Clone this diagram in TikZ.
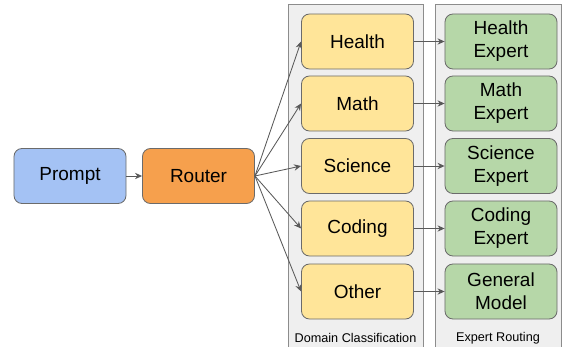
\documentclass[tikz,border=0pt]{standalone}
\usepackage{fontspec}
\setmainfont{Liberation Sans}
\usetikzlibrary{arrows.meta}
\definecolor{promptblue}{HTML}{A4C2F4}
\definecolor{routerorange}{HTML}{F6A04D}
\definecolor{domainyellow}{HTML}{FFE599}
\definecolor{expertgreen}{HTML}{B6D7A8}
\definecolor{panelgray}{HTML}{EFEFEF}
\definecolor{panelline}{HTML}{8C8C8C}
\definecolor{boxline}{HTML}{6B6B6B}
\definecolor{linkgray}{HTML}{595959}
\tikzset{
  box/.style={draw=boxline, line width=0.6pt, rounded corners=0.2cm,
    minimum width=2.8cm, minimum height=1.375cm, align=center,
    font=\fontsize{13.5}{16.3}\selectfont},
  domainbox/.style={box, fill=domainyellow},
  expertbox/.style={box, fill=expertgreen},
  panel/.style={draw=panelline, line width=0.6pt, fill=panelgray},
  link/.style={draw=linkgray, line width=0.6pt, -{Stealth[length=5pt,width=4.5pt]}},
  caption/.style={font=\fontsize{9}{11}\selectfont}
}
\begin{document}
\begin{tikzpicture}[x=0.025cm,y=-0.025cm]
        \useasboundingbox (0,0) rectangle (565,347);

        % the two grey columns
        \draw[panel] (288,4) rectangle (423,349);
        \draw[panel] (435,4) rectangle (561,349);
        \node[caption] (domlabel) at (355.5,338) {Domain Classification};
        \node[caption] (explabel) at (498,338) {Expert Routing};

        % input side
        \node[box, fill=promptblue] (prompt) at (70,176) {Prompt};
        \node[box, fill=routerorange] (router) at (198.5,176) {Router};
        \draw[link] (prompt) -- (router);

        % one row for each domain
        \foreach \y/\name/\dtext/\etext in {
            41.5/health/Health/{Health\\Expert},
            103.5/math/Math/{Math\\Expert},
            166/science/Science/{Science\\Expert},
            228.5/coding/Coding/{Coding\\Expert},
            291.5/other/Other/{General\\Model}} {
                % domain box and expert box
                \node[domainbox] (d\name) at (357.5,\y) {\dtext};
                \node[expertbox] (e\name) at (501,\y) {\etext};
                % router to domain, domain to expert
                \draw[link] (router.east) -- (d\name.west);
                \draw[link] (d\name) -- (e\name);
        }
\end{tikzpicture}
\end{document}
